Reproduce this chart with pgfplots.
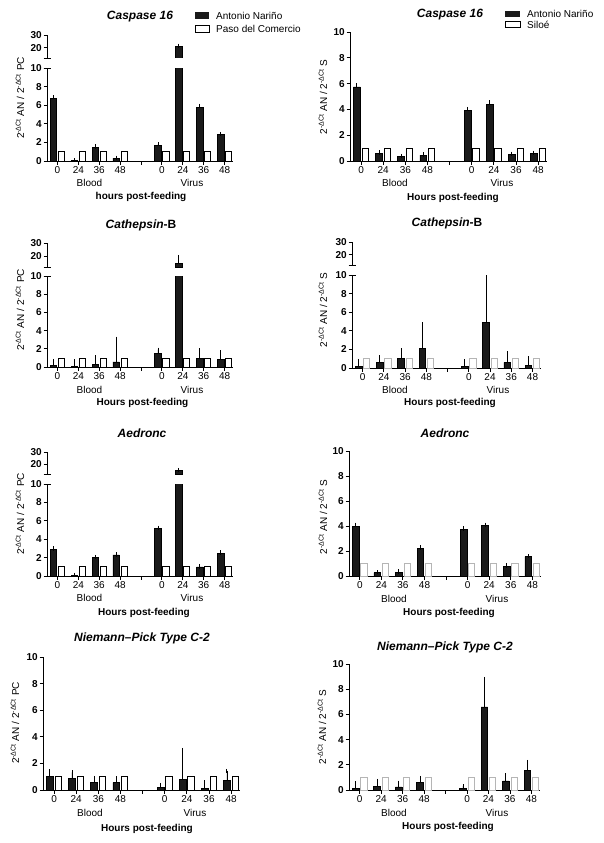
\documentclass[border=0pt]{standalone}
\usepackage{fontspec}
\setmainfont{Liberation Sans}
\usepackage{pgfplots}
\usepackage{pgfplotstable}
\pgfplotsset{compat=1.18}

\definecolor{barblack}{HTML}{1A1A1A}
\definecolor{outgray}{HTML}{B5B5B5}

% x: 0,1,2,3 = Blood 0/24/36/48 h ; 5,6,7,8 = Virus 0/24/36/48 h
% an = Antonio Narino (mean), err = upper error, ref = reference site
\pgfplotstableread{
x an err ref
0 6.75 0.10 1
1 0.05 0.02 1
2 1.50 0.08 1
3 0.30 0.05 1
5 1.70 0.10 1
6 21.0 0.50 1
7 5.80 0.10 1
8 2.85 0.05 1
}\casppc
\pgfplotstableread{
x an err ref
0 5.75 0.10 1
1 0.60 0.05 1
2 0.35 0.03 1
3 0.45 0.05 1
5 3.90 0.12 1
6 4.40 0.15 1
7 0.50 0.05 1
8 0.60 0.03 1
}\casps
\pgfplotstableread{
x an err ref
0 0.15 0.50 1
1 0.05 0.55 1
2 0.30 0.75 1
3 0.55 2.55 1
5 1.50 0.40 1
6 15.0 4.50 1
7 0.95 0.85 1
8 0.80 0.80 1
}\cathpc
\pgfplotstableread{
x an err ref
0 0.20 0.55 1
1 0.60 0.55 1
2 1.05 0.85 1
3 2.15 2.55 1
5 0.20 0.50 1
6 4.90 5.10 1
7 0.60 0.95 1
8 0.30 0.75 1
}\caths
\pgfplotstableread{
x an err ref
0 2.90 0.10 1
1 0.10 0.02 1
2 2.00 0.05 1
3 2.30 0.05 1
5 5.20 0.05 1
6 15.0 0.30 1
7 1.00 0.03 1
8 2.50 0.05 1
}\aedpc
\pgfplotstableread{
x an err ref
0 4.00 0.10 1
1 0.27 0.03 1
2 0.32 0.03 1
3 2.20 0.07 1
5 3.72 0.08 1
6 4.02 0.08 1
7 0.80 0.03 1
8 1.55 0.03 1
}\aeds
\pgfplotstableread{
x an err ref
0 1.00 0.38 1
1 0.90 0.43 1
2 0.55 0.35 1
3 0.55 0.33 1
5 0.22 0.16 1
6 0.78 2.22 1
7 0.12 0.46 1
8 0.73 0.70 1
}\npcpc
\pgfplotstableread{
x an err ref
0 0.15 0.38 1
1 0.30 0.40 1
2 0.25 0.33 1
3 0.63 0.32 1
5 0.15 0.15 1
6 6.60 2.20 1
7 0.72 0.42 1
8 1.53 0.69 1
}\npcs

\pgfplotsset{
  base/.style={
    scale only axis, anchor=south west,
    xmin=-0.5, xmax=8.4,
    axis y line*=left,
    axis line style={-, line width=0.9pt},
    tick style={black, line width=0.9pt},
    tick align=outside, major tick length=3.5pt,
    yticklabel style={font=\bfseries\fontsize{10}{11}\selectfont, inner sep=1.5pt},
  },
  panel/.style={base,
    ymin=0, ymax=10,
    axis x line*=bottom,
    xtick={0,...,8}, xticklabels={0,24,36,48,,0,24,36,48},
    xticklabel style={font=\fontsize{10}{11}\selectfont, inner sep=2pt},
    ytick={0,2,4,6,8,10}, yticklabels={0,2,4,6,8,10},
  },
  upper/.style={base,
    ymin=12, ymax=30,
    axis x line=none,
    ytick={20,30}, yticklabels={20,30},
  },
  anbar/.style={ybar, bar width=0.31, bar shift=0,
    fill=barblack, draw=black, line width=0.6pt,
    error bars/.cd, y dir=plus, y explicit, error mark=-,
    error bar style={line width=0.8pt, black},
    error mark options={line width=0.9pt, black, mark size=2.2pt}},
  refbar/.style={ybar, bar width=0.29, bar shift=0,
    fill=white, draw=black, line width=0.8pt},
  refgray/.style={ybar, bar width=0.29, bar shift=0,
    fill=white, draw=outgray, line width=0.8pt},
}
% black bars sit left of each category, open bars right of it
\newcommand{\lo}[2]{%
  \addplot[anbar] table[x expr=\thisrow{x}-0.19, y=an, y error=err] {#1};
  \addplot[#2] table[x expr=\thisrow{x}+0.19, y=ref] {#1};}
\newcommand{\hi}[1]{%
  \addplot[restrict y to domain=12:100, anbar] table[x expr=\thisrow{x}-0.19, y=an, y error=err] {#1};}

\newcommand{\dct}{\textsuperscript{-ΔCt}}
\newcommand{\brk}[2]{%
  \draw[line width=0.9pt] (#1.north west) ++(-3.5pt,0) -- ++(7pt,0);
  \draw[line width=0.9pt] (#2.south west) ++(-3.5pt,0) -- ++(7pt,0);}
\tikzset{
  ttl/.style={font=\bfseries\itshape\fontsize{12}{14}\selectfont},
  ylab/.style={rotate=90, font=\fontsize{10}{12}\selectfont},
  grp/.style={font=\fontsize{10}{12}\selectfont},
  hrs/.style={font=\bfseries\fontsize{10}{12}\selectfont},
  leg/.style={font=\fontsize{10}{12}\selectfont, anchor=west, inner sep=0pt},
}

\begin{document}
\begin{tikzpicture}
\useasboundingbox (0pt,0pt) rectangle (604pt,-843pt);

% ---------- Caspase 16, AN / PC ----------
\begin{axis}[panel, name=p1, at={(47pt,-161pt)}, width=186pt, height=93pt]
\lo{\casppc}{refbar}
\end{axis}
\begin{axis}[upper, name=p1u, at={(47pt,-58pt)}, width=186pt, height=23pt]
\hi{\casppc}
\end{axis}
\brk{p1}{p1u}
\node[ttl] at (140pt,-17pt) {Caspase 16};
\node[ylab] at (20pt,-98pt) {2\dct{} AN / 2\dct{} PC};
\node[grp] at (89.5pt,-183pt) {Blood};
\node[grp] at (192pt,-183pt) {Virus};
\node[hrs] at (141pt,-197pt) {hours post-feeding};
\fill[barblack] (195pt,-12.5pt) rectangle (209pt,-19.5pt);
\draw[line width=0.8pt] (195pt,-25.5pt) rectangle (209pt,-32pt);
\node[leg] at (216pt,-16pt) {Antonio Nariño};
\node[leg] at (216pt,-29pt) {Paso del Comercio};

% ---------- Caspase 16, AN / S ----------
\begin{axis}[panel, name=p2, at={(350pt,-161pt)}, width=197pt, height=129pt]
\lo{\casps}{refbar}
\end{axis}
\node[ttl] at (450pt,-15pt) {Caspase 16};
\node[ylab] at (323pt,-97pt) {2\dct{} AN / 2\dct{} S};
\node[grp] at (395pt,-183pt) {Blood};
\node[grp] at (502pt,-183pt) {Virus};
\node[hrs] at (453pt,-198pt) {Hours post-feeding};
\fill[barblack] (505pt,-11pt) rectangle (520pt,-17.5pt);
\draw[line width=0.8pt] (505pt,-21pt) rectangle (520pt,-27.5pt);
\node[leg] at (527pt,-14pt) {Antonio Nariño};
\node[leg] at (527pt,-24.5pt) {Siloé};

% ---------- Cathepsin-B, AN / PC ----------
\begin{axis}[panel, name=p3, at={(47pt,-367pt)}, width=186pt, height=91pt]
\lo{\cathpc}{refbar}
\end{axis}
\begin{axis}[upper, name=p3u, at={(47pt,-267pt)}, width=186pt, height=24pt]
\hi{\cathpc}
\end{axis}
\brk{p3}{p3u}
\node[ttl] at (141pt,-225pt) {Cathepsin\upshape-B};
\node[ylab] at (20pt,-310pt) {2\dct{} AN / 2\dct{} PC};
\node[grp] at (89.5pt,-390pt) {Blood};
\node[grp] at (192pt,-390pt) {Virus};
\node[hrs] at (142.5pt,-403pt) {Hours post-feeding};

% ---------- Cathepsin-B, AN / S ----------
\begin{axis}[panel, name=p4, at={(352pt,-368pt)}, width=189pt, height=93pt]
\lo{\caths}{refgray}
\end{axis}
\begin{axis}[upper, name=p4u, at={(352pt,-265pt)}, width=189pt, height=23pt]
\hi{\caths}
\end{axis}
\brk{p4}{p4u}
\node[ttl] at (447pt,-223pt) {Cathepsin\upshape-B};
\node[ylab] at (323pt,-310pt) {2\dct{} AN / 2\dct{} S};
\node[grp] at (395pt,-390pt) {Blood};
\node[grp] at (498pt,-390pt) {Virus};
\node[hrs] at (450pt,-403pt) {Hours post-feeding};

% ---------- Aedronc, AN / PC ----------
\begin{axis}[panel, name=p5, at={(47pt,-576pt)}, width=186pt, height=92pt]
\lo{\aedpc}{refbar}
\end{axis}
\begin{axis}[upper, name=p5u, at={(47pt,-474pt)}, width=186pt, height=22pt]
\hi{\aedpc}
\end{axis}
\brk{p5}{p5u}
\node[ttl] at (142pt,-433pt) {Aedronc};
\node[ylab] at (20pt,-514pt) {2\dct{} AN / 2\dct{} PC};
\node[grp] at (89.5pt,-598pt) {Blood};
\node[grp] at (192pt,-598pt) {Virus};
\node[hrs] at (144pt,-613pt) {Hours post-feeding};

% ---------- Aedronc, AN / S ----------
\begin{axis}[panel, name=p6, at={(349pt,-576pt)}, width=192pt, height=125pt]
\lo{\aeds}{refgray}
\end{axis}
\node[ttl] at (445pt,-433pt) {Aedronc};
\node[ylab] at (323pt,-517pt) {2\dct{} AN / 2\dct{} S};
\node[grp] at (394pt,-599pt) {Blood};
\node[grp] at (497pt,-599pt) {Virus};
\node[hrs] at (449pt,-613pt) {Hours post-feeding};

% ---------- Niemann-Pick Type C-2, AN / PC ----------
\begin{axis}[panel, name=p7, at={(43pt,-790pt)}, width=197pt, height=133pt]
\lo{\npcpc}{refbar}
\end{axis}
\node[ttl] at (142pt,-638pt) {Niemann–Pick Type C-2};
\node[ylab] at (15pt,-723pt) {2\dct{} AN / 2\dct{} PC};
\node[grp] at (90pt,-813pt) {Blood};
\node[grp] at (195pt,-813pt) {Virus};
\node[hrs] at (147pt,-829pt) {Hours post-feeding};

% ---------- Niemann-Pick Type C-2, AN / S ----------
\begin{axis}[panel, name=p8, at={(349pt,-790pt)}, width=191pt, height=126pt]
\lo{\npcs}{refgray}
\end{axis}
\node[ttl] at (445pt,-647pt) {Niemann–Pick Type C-2};
\node[ylab] at (322pt,-727pt) {2\dct{} AN / 2\dct{} S};
\node[grp] at (394pt,-813pt) {Blood};
\node[grp] at (497pt,-813pt) {Virus};
\node[hrs] at (448pt,-827pt) {Hours post-feeding};

\end{tikzpicture}
\end{document}
